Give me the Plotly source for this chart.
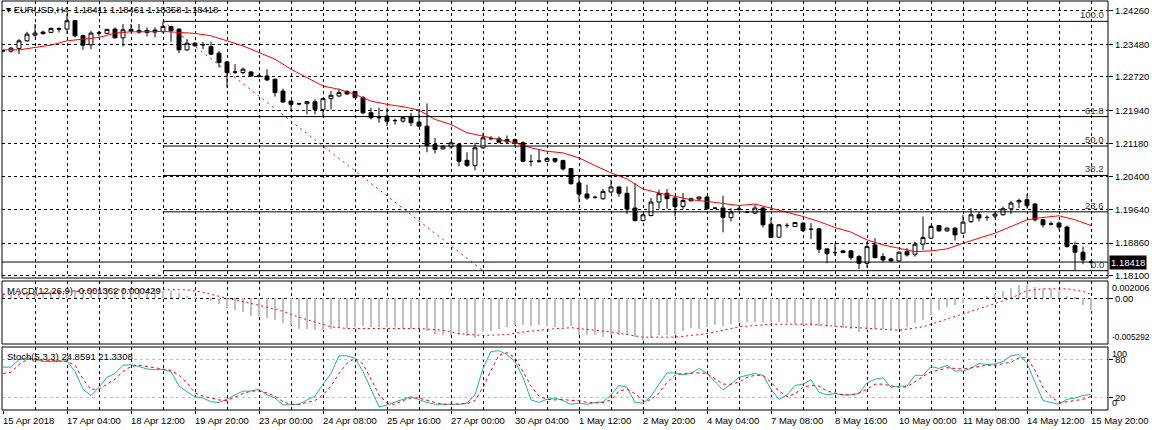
import plotly.graph_objects as go

# ---- data (EURUSD H4) ----
date_labels = ["15 Apr 2018", "17 Apr 04:00", "18 Apr 12:00", "19 Apr 20:00", "23 Apr 00:00",
               "24 Apr 08:00", "25 Apr 16:00", "27 Apr 00:00", "30 Apr 04:00", "1 May 12:00",
               "2 May 20:00", "4 May 04:00", "7 May 08:00", "8 May 16:00", "10 May 00:00",
               "11 May 08:00", "14 May 12:00", "15 May 20:00"]

opens = [1.23331, 1.23320, 1.23383, 1.23560, 1.23693, 1.23763, 1.23756, 1.23845, 1.23833, 1.24031,
         1.23681, 1.23467, 1.23740, 1.23733, 1.23833, 1.23630, 1.23826, 1.23803, 1.23756, 1.23810,
         1.23770, 1.23891, 1.23833, 1.23350, 1.23506, 1.23476, 1.23429, 1.23273, 1.23070, 1.22837,
         1.22823, 1.22837, 1.22743, 1.22743, 1.22667, 1.22393, 1.22160, 1.22099, 1.22099, 1.22146,
         1.21966, 1.22216, 1.22277, 1.22386, 1.22386, 1.22239, 1.21889, 1.21780, 1.21810, 1.21710,
         1.21693, 1.21796, 1.21670, 1.21577, 1.21150, 1.21049, 1.21096, 1.21150, 1.20783, 1.20660,
         1.21073, 1.21290, 1.21283, 1.21266, 1.21266, 1.21189, 1.20760, 1.20769, 1.20760, 1.20823,
         1.20776, 1.20590, 1.20256, 1.19999, 1.19925, 1.19890, 1.20046, 1.20163, 1.20016, 1.19673,
         1.19383, 1.19500, 1.19813, 1.20016, 1.19906, 1.19710, 1.19843, 1.19883, 1.19930, 1.19673,
         1.19673, 1.19453, 1.19645, 1.19575, 1.19556, 1.19673, 1.19299, 1.18996, 1.19271, 1.19244,
         1.19323, 1.19183, 1.19190, 1.18723, 1.18642, 1.18677, 1.18677, 1.18544, 1.18389, 1.18816,
         1.18544, 1.18490, 1.18443, 1.18660, 1.18600, 1.18833, 1.18973, 1.19267, 1.19143, 1.19206,
         1.19089, 1.19360, 1.19516, 1.19458, 1.19486, 1.19516, 1.19656, 1.19813, 1.19866, 1.19766,
         1.19400, 1.19306, 1.19323, 1.19230, 1.18800, 1.18646, 1.18411]
highs = [1.23355, 1.23413, 1.23600, 1.23770, 1.23950, 1.23798, 1.23868, 1.23873, 1.24183, 1.24043,
         1.23705, 1.23793, 1.23793, 1.23840, 1.23873, 1.23950, 1.23950, 1.23950, 1.23873, 1.23873,
         1.24013, 1.23910, 1.23849, 1.23600, 1.23530, 1.23537, 1.23537, 1.23327, 1.23080, 1.23016,
         1.22939, 1.22853, 1.22783, 1.22900, 1.22683, 1.22449, 1.22176, 1.22123, 1.22160, 1.22200,
         1.22239, 1.22393, 1.22449, 1.22410, 1.22393, 1.22277, 1.22006, 1.22006, 1.22006, 1.21749,
         1.21796, 1.21889, 1.21966, 1.22106, 1.21306, 1.21126, 1.21227, 1.21173, 1.20970, 1.21189,
         1.21423, 1.21343, 1.21336, 1.21360, 1.21290, 1.21227, 1.20916, 1.21033, 1.20846, 1.20839,
         1.20800, 1.20606, 1.20396, 1.20216, 1.19960, 1.20116, 1.20333, 1.20177, 1.20177, 1.20256,
         1.19540, 1.19906, 1.20100, 1.20116, 1.19960, 1.20023, 1.19913, 1.19943, 1.19960, 1.19691,
         1.19960, 1.19673, 1.19703, 1.19610, 1.19750, 1.19703, 1.19439, 1.19306, 1.19323, 1.19353,
         1.19342, 1.19323, 1.19213, 1.18746, 1.18856, 1.18700, 1.18700, 1.18583, 1.18894, 1.18973,
         1.18623, 1.18520, 1.18660, 1.18739, 1.18894, 1.19477, 1.19283, 1.19283, 1.19225, 1.19225,
         1.19516, 1.19673, 1.19580, 1.19500, 1.19580, 1.19710, 1.19843, 1.19890, 1.20000, 1.19789,
         1.19411, 1.19360, 1.19360, 1.19267, 1.18894, 1.18777, 1.18461]
lows = [1.23296, 1.23285, 1.23250, 1.23537, 1.23646, 1.23705, 1.23744, 1.23756, 1.23716, 1.23639,
        1.23350, 1.23367, 1.23663, 1.23723, 1.23616, 1.23429, 1.23756, 1.23723, 1.23663, 1.23639,
        1.23756, 1.23537, 1.23273, 1.23327, 1.23429, 1.23367, 1.23226, 1.22939, 1.22473, 1.22783,
        1.22783, 1.22729, 1.22706, 1.22627, 1.22263, 1.22123, 1.21927, 1.22060, 1.21850, 1.21850,
        1.21810, 1.21966, 1.22263, 1.22316, 1.22230, 1.21850, 1.21733, 1.21656, 1.21577, 1.21616,
        1.21656, 1.21577, 1.21563, 1.20970, 1.20940, 1.21033, 1.21049, 1.20643, 1.20629, 1.20550,
        1.21049, 1.21250, 1.21196, 1.21173, 1.21110, 1.20737, 1.20643, 1.20723, 1.20753, 1.20723,
        1.20543, 1.20216, 1.19804, 1.19866, 1.19890, 1.19866, 1.20016, 1.19936, 1.19533, 1.19360,
        1.19360, 1.19477, 1.19656, 1.19656, 1.19477, 1.19649, 1.19820, 1.19866, 1.19633, 1.19645,
        1.19108, 1.19360, 1.19610, 1.19551, 1.19533, 1.19220, 1.18973, 1.18980, 1.19206, 1.19225,
        1.19113, 1.18950, 1.18623, 1.18389, 1.18560, 1.18623, 1.18467, 1.18257, 1.18287, 1.18506,
        1.18413, 1.18427, 1.18427, 1.18544, 1.18544, 1.18700, 1.18950, 1.19120, 1.19120, 1.18917,
        1.19066, 1.19323, 1.19360, 1.19376, 1.19439, 1.19500, 1.19533, 1.19673, 1.19656, 1.19360,
        1.19220, 1.19267, 1.19167, 1.18754, 1.18217, 1.18366, 1.18358]
closes = [1.23327, 1.23390, 1.23560, 1.23716, 1.23740, 1.23728, 1.23849, 1.23833, 1.24027, 1.23677,
          1.23460, 1.23740, 1.23747, 1.23826, 1.23630, 1.23817, 1.23786, 1.23763, 1.23803, 1.23763,
          1.23896, 1.23793, 1.23350, 1.23506, 1.23443, 1.23467, 1.23250, 1.23056, 1.22823, 1.22832,
          1.22900, 1.22743, 1.22739, 1.22650, 1.22356, 1.22137, 1.22083, 1.22095, 1.22146, 1.21966,
          1.22216, 1.22293, 1.22356, 1.22323, 1.22239, 1.21889, 1.21773, 1.21773, 1.21693, 1.21705,
          1.21773, 1.21656, 1.21577, 1.21126, 1.21033, 1.21110, 1.21189, 1.20760, 1.20660, 1.21073,
          1.21306, 1.21285, 1.21203, 1.21213, 1.21173, 1.20760, 1.20755, 1.20760, 1.20823, 1.20760,
          1.20583, 1.20240, 1.19999, 1.19906, 1.19920, 1.20060, 1.20163, 1.20016, 1.19650, 1.19383,
          1.19516, 1.19813, 1.20006, 1.19890, 1.19710, 1.19850, 1.19890, 1.19930, 1.19656, 1.19668,
          1.19458, 1.19580, 1.19650, 1.19570, 1.19673, 1.19283, 1.18987, 1.19283, 1.19267, 1.19337,
          1.19150, 1.19178, 1.18716, 1.18614, 1.18637, 1.18637, 1.18520, 1.18389, 1.18777, 1.18520,
          1.18467, 1.18443, 1.18646, 1.18583, 1.18833, 1.18987, 1.19244, 1.19143, 1.19206, 1.19050,
          1.19346, 1.19516, 1.19439, 1.19453, 1.19533, 1.19656, 1.19789, 1.19850, 1.19733, 1.19400,
          1.19283, 1.19302, 1.19230, 1.18777, 1.18646, 1.18467, 1.18418]

# moving average (red), read every 2nd bar
ma_bars = list(range(0, 137, 2))
ma_values = [1.23350, 1.23350, 1.23406, 1.23460, 1.23560, 1.23600, 1.23639, 1.23740, 1.23770, 1.23770,
             1.23779, 1.23756, 1.23733, 1.23677, 1.23560, 1.23443, 1.23289, 1.23133, 1.22900, 1.22706,
             1.22510, 1.22433, 1.22316, 1.22160, 1.22083, 1.22029, 1.21950, 1.21733, 1.21616, 1.21423,
             1.21343, 1.21266, 1.21189, 1.21073, 1.20993, 1.20956, 1.20839, 1.20660, 1.20489, 1.20349,
             1.20116, 1.20023, 1.19944, 1.19866, 1.19827, 1.19773, 1.19733, 1.19766, 1.19673, 1.19580,
             1.19477, 1.19360, 1.19220, 1.19113, 1.18933, 1.18816, 1.18739, 1.18660, 1.18677, 1.18723,
             1.18856, 1.18973, 1.19089, 1.19244, 1.19400, 1.19454, 1.19493, 1.19400, 1.19267]

# fibonacci retracement anchors
fib_start_bar, fib_end_bar = 20, 60
fib_high, fib_low = 1.24013, 1.18217
fib_levels = [0.0, 23.6, 38.2, 50.0, 61.8, 100.0]
bid_price = 1.18418

price_ticks = [1.24260, 1.23480, 1.22720, 1.21940, 1.21180, 1.20400, 1.19640, 1.18860, 1.18100]

macd_main = [0.0006, 0.0006, 0.0007, 0.0008, 0.0009, 0.0009, 0.0010, 0.0010, 0.0011, 0.00099,
             0.00099, 0.00095, 0.00095, 0.00099, 0.00099, 0.00099, 0.00099, 0.00095, 0.00095, 0.00095,
             0.00087, 0.00087, 0.00059, 0.00028, 0.0001, 0.0, -0.0003, -0.0007, -0.0011, -0.0013,
             -0.0016, -0.0020, -0.0021, -0.0023, -0.0025, -0.0029, -0.0031, -0.0035, -0.0036, -0.0037,
             -0.0037, -0.0036, -0.0034, -0.0034, -0.0033, -0.0032, -0.0033, -0.0033, -0.0033, -0.0033,
             -0.0034, -0.0036, -0.0036, -0.0038, -0.0041, -0.0042, -0.0043, -0.0043, -0.0044, -0.0046,
             -0.0039, -0.0038, -0.0035, -0.0033, -0.0031, -0.0031, -0.0032, -0.0031, -0.0032, -0.0033,
             -0.0033, -0.0032, -0.0043, -0.0042, -0.0043, -0.0045, -0.0043, -0.0042, -0.0043, -0.0045,
             -0.0049, -0.0046, -0.0043, -0.0042, -0.0041, -0.0038, -0.0034, -0.0035, -0.0033, -0.0031,
             -0.0032, -0.0030, -0.0028, -0.0027, -0.0027, -0.0028, -0.0027, -0.0027, -0.0029, -0.0030,
             -0.0031, -0.0032, -0.0032, -0.0033, -0.0033, -0.0034, -0.0036, -0.0039, -0.0037, -0.0036,
             -0.0036, -0.0036, -0.0036, -0.0033, -0.0029, -0.0025, -0.0019, -0.0014, -0.0010, -0.0008,
             -0.0005, -0.0002, 0.0, 0.0003, 0.00055, 0.00087, 0.0012, 0.0015, 0.0015, 0.0013,
             0.0011, 0.0011, 0.0009, 0.0003, 0.0001, -0.0008, -0.001362]
macd_sig_bars = [0, 4, 9, 13, 18, 23, 25, 28, 32, 35, 37, 40, 41, 43, 46, 52, 55, 57, 60, 63, 65, 68,
                 71, 72, 76, 80, 84, 88, 92, 96, 101, 105, 108, 112, 115, 119, 123, 126, 128, 130,
                 133, 135, 136]
macd_sig_values = [0.00047, 0.00047, 0.00087, 0.00099, 0.00100, 0.00099, 0.0007, 0.0, -0.0008, -0.0015,
                   -0.0022, -0.0030, -0.0033, -0.0035, -0.0035, -0.0035, -0.0037, -0.0041, -0.0043,
                   -0.0042, -0.0039, -0.0036, -0.0034, -0.0035, -0.0039, -0.0045, -0.0045, -0.0041,
                   -0.0033, -0.0030, -0.0030, -0.0033, -0.0035, -0.0037, -0.0033, -0.0021, -0.0009,
                   0.0, 0.0009, 0.0011, 0.0011, 0.0008, 0.000429]
macd_range = [-0.005292, 0.002006]

stoch_main = [68, 68, 80, 83, 80, 77, 77, 77, 78, 61, 33, 23, 36, 52, 58, 71, 72, 69, 65, 64,
              64, 61, 38, 29, 21, 19, 13, 12, 17, 24, 30, 30, 33, 24, 19, 8, 8, 9, 16, 22,
              41, 58, 86, 86, 82, 61, 33, 5, 8, 13, 17, 21, 16, 12, 9, 9, 9, 9, 11, 24,
              66, 93, 94, 88, 77, 52, 16, 12, 17, 19, 15, 9, 11, 9, 12, 13, 24, 39, 36, 12,
              11, 22, 41, 59, 59, 56, 58, 66, 58, 45, 32, 41, 52, 55, 58, 55, 33, 17, 24, 39,
              41, 48, 28, 24, 26, 24, 24, 26, 43, 49, 51, 36, 38, 38, 55, 55, 69, 66, 71, 62,
              62, 66, 74, 72, 73, 77, 86, 88, 74, 44, 15, 12, 9, 17, 19, 23, 24.8591]
stoch_signal = [58, 60, 72, 80, 82, 79, 79, 78, 77, 71, 49, 33, 33, 41, 49, 61, 69, 71, 69, 67,
                65, 63, 55, 43, 27, 22, 19, 16, 15, 21, 26, 30, 30, 27, 22, 13, 9, 9, 12, 15,
                24, 38, 58, 74, 82, 73, 49, 24, 11, 9, 15, 19, 19, 15, 12, 9, 9, 9, 10, 15,
                36, 63, 87, 91, 83, 61, 38, 22, 17, 16, 17, 15, 15, 12, 11, 12, 16, 30, 33, 26,
                15, 16, 27, 44, 55, 58, 59, 59, 58, 49, 41, 41, 44, 52, 55, 55, 44, 30, 21, 26,
                36, 39, 38, 30, 27, 24, 24, 27, 33, 41, 41, 39, 36, 37, 45, 52, 61, 63, 67, 66,
                65, 67, 69, 71, 71, 73, 76, 83, 83, 63, 36, 21, 12, 13, 15, 17, 21.3308]

bars = list(range(len(closes)))

# ---- layout geometry (pixels) ----
W, H = 1152, 430
ML, MR, MT, MB = 2, 44, 1, 20
plot_h = H - MT - MB


def py(y_px):
    # pixel row -> paper fraction
    return (H - MB - y_px) / plot_h


main_dom = [py(278), 1]
macd_dom = [py(344), py(281)]
stoch_dom = [0, py(347)]
x_range = [-0.125, 138.125]

grid_dash = "3px,3px"
font = "Liberation Sans"
fs = 9.5

fig = go.Figure()

fig.add_trace(go.Candlestick(
    x=bars, open=opens, high=highs, low=lows, close=closes,
    increasing=dict(line=dict(color="black", width=1), fillcolor="white"),
    decreasing=dict(line=dict(color="black", width=1), fillcolor="black"),
    whiskerwidth=0, xaxis="x", yaxis="y", hoverinfo="skip"))

fig.add_trace(go.Scatter(x=ma_bars, y=ma_values, mode="lines",
                         line=dict(color="#FF0000", width=1), xaxis="x", yaxis="y"))

# fib diagonal
fig.add_trace(go.Scatter(x=[fib_start_bar, fib_end_bar], y=[fib_high, fib_low], mode="lines",
                         line=dict(color="#FF0000", width=1, dash="2px,4px"), xaxis="x", yaxis="y"))

fig.add_trace(go.Bar(x=bars, y=macd_main, width=0.25, marker=dict(color="#C0C0C0", line=dict(width=0)),
                     xaxis="x2", yaxis="y2"))
fig.add_trace(go.Scatter(x=macd_sig_bars, y=macd_sig_values, mode="lines",
                         line=dict(color="#FF0000", width=1, dash="2px,3px"), xaxis="x2", yaxis="y2"))

fig.add_trace(go.Scatter(x=bars, y=stoch_main, mode="lines",
                         line=dict(color="#20B2AA", width=1), xaxis="x3", yaxis="y3"))
fig.add_trace(go.Scatter(x=bars, y=stoch_signal, mode="lines",
                         line=dict(color="#FF0000", width=1, dash="3px,3px"), xaxis="x3", yaxis="y3"))

shapes = []
ann = []

# fibonacci levels
for lv in fib_levels:
    p = fib_low + (fib_high - fib_low) * lv / 100
    shapes.append(dict(type="line", xref="x", yref="y", x0=fib_start_bar, x1=x_range[1], y0=p, y1=p,
                       line=dict(color="black", width=1)))
    ann.append(dict(xref="paper", yref="y", x=1, y=p, xanchor="right", yanchor="bottom",
                    text="%.1f" % lv, showarrow=False, xshift=-2, yshift=-1,
                    font=dict(family=font, size=fs, color="#333333")))

# bid line + price box
shapes.append(dict(type="line", xref="paper", yref="y", x0=0, x1=1, y0=bid_price, y1=bid_price,
                   line=dict(color="black", width=1)))
ann.append(dict(xref="paper", yref="y", x=1, y=bid_price, xanchor="left", yanchor="middle",
                text="%.5f" % bid_price, showarrow=False, xshift=1, bgcolor="black",
                font=dict(family=font, size=fs, color="white"), borderpad=1))

# panel frames
for dom in (main_dom, macd_dom, stoch_dom):
    shapes.append(dict(type="rect", xref="paper", yref="paper", x0=0, x1=1, y0=dom[0], y1=dom[1],
                       line=dict(color="black", width=1), layer="above"))

# panel captions
ann.append(dict(xref="paper", yref="paper", x=0, y=1, xanchor="left", yanchor="top", xshift=2, yshift=-1,
                text="▾ EURUSD,H4  %.5f %.5f %.5f %.5f" % (opens[-1], highs[-1], lows[-1], closes[-1]),
                showarrow=False, font=dict(family=font, size=fs, color="black")))
ann.append(dict(xref="paper", yref="paper", x=0, y=macd_dom[1], xanchor="left", yanchor="top",
                xshift=3, yshift=-2, showarrow=False,
                text="MACD(12,26,9) %.6f %.6f" % (macd_main[-1], macd_sig_values[-1]),
                font=dict(family=font, size=fs, color="black")))
ann.append(dict(xref="paper", yref="paper", x=0, y=stoch_dom[1], xanchor="left", yanchor="top",
                xshift=3, yshift=-2, showarrow=False,
                text="Stoch(5,3,3) %.4f %.4f" % (stoch_main[-1], stoch_signal[-1]),
                font=dict(family=font, size=fs, color="black")))

# right-side labels for sub panels
for txt, yref, yv, anchor, size in [("%.6f" % macd_range[1], "y2", macd_range[1], "top", 9),
                                    ("%.6f" % macd_range[0], "y2", macd_range[0], "bottom", 8.3),
                                    ("100", "y3", 100, "top", 9), ("0", "y3", 0, "bottom", 9)]:
    ann.append(dict(xref="paper", yref=yref, x=1, y=yv, xanchor="left", yanchor=anchor, xshift=2,
                    text=txt, showarrow=False, font=dict(family=font, size=size, color="black")))

# date labels
for k, lab in enumerate(date_labels):
    ann.append(dict(xref="x3", yref="paper", x=k * 8, y=0, xanchor="left", yanchor="top",
                    xshift=-2, yshift=-3, text=lab, showarrow=False,
                    font=dict(family=font, size=fs, color="black")))

major = list(range(0, 137, 8))
minor = list(range(4, 137, 8))
xcommon = dict(range=x_range, tickvals=major, showticklabels=False, showgrid=True, gridcolor="black",
               gridwidth=1, griddash=grid_dash, zeroline=False, showline=False,
               minor=dict(tickvals=minor, showgrid=True, gridcolor="black", gridwidth=1, griddash=grid_dash))

fig.update_layout(
    width=W, height=H, margin=dict(l=ML, r=MR, t=MT, b=MB),
    paper_bgcolor="white", plot_bgcolor="white", showlegend=False, bargap=0,
    xaxis=dict(xcommon, anchor="y", rangeslider=dict(visible=False)),
    xaxis2=dict(xcommon, anchor="y2", matches="x"),
    xaxis3=dict(xcommon, anchor="y3", matches="x", ticks="outside", ticklen=3, tickcolor="black"),
    yaxis=dict(domain=main_dom, range=[1.18047, 1.24486], side="right", tickvals=price_ticks,
               ticktext=["%.5f" % v for v in price_ticks], ticks="outside", ticklen=4, tickcolor="black",
               showgrid=True, gridcolor="black", griddash=grid_dash, zeroline=False,
               tickfont=dict(family=font, size=fs, color="black"), anchor="x"),
    yaxis2=dict(domain=macd_dom, range=macd_range, side="right", tickvals=[0], ticktext=["0.00"],
                ticks="outside", ticklen=4, tickcolor="black", showgrid=True, gridcolor="black",
                griddash=grid_dash, zeroline=False, tickfont=dict(family=font, size=fs, color="black"),
                anchor="x2"),
    yaxis3=dict(domain=stoch_dom, range=[0, 100], side="right", tickvals=[20, 80], ticktext=["20", "80"],
                ticks="outside", ticklen=4, tickcolor="black", showgrid=True, gridcolor="#C0C0C0",
                griddash=grid_dash, zeroline=False, tickfont=dict(family=font, size=fs, color="black"),
                anchor="x3"),
    shapes=shapes, annotations=ann,
)

# drop the default page margin so the figure sits at the window's corner
fig.write_html("out.html", config={"displayModeBar": False},
               post_script="document.body.style.margin='0';")
